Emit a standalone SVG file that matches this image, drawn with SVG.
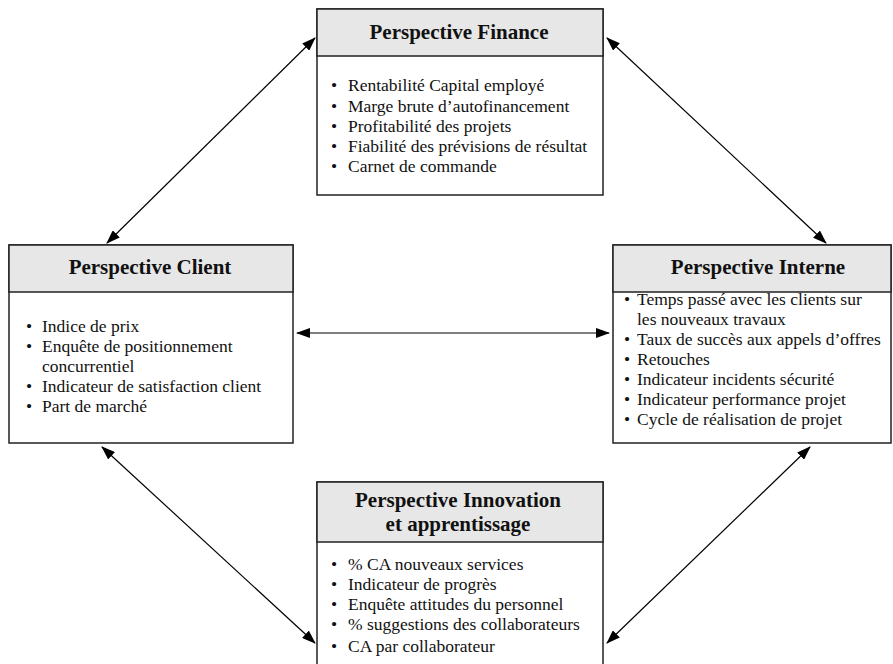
<svg xmlns="http://www.w3.org/2000/svg" width="893" height="664" viewBox="0 0 893 664">
<defs>
<marker id="ah" viewBox="0 0 14 10" refX="13" refY="5" markerWidth="14" markerHeight="10" markerUnits="userSpaceOnUse" orient="auto-start-reverse">
<path d="M0,0 L14,5 L0,10 Z" fill="#000"/>
</marker>
<style>
.box{fill:#fff;stroke:#222;stroke-width:1.5}
.hdr{fill:#e7e7e7;stroke:#222;stroke-width:1.5}
.ttl{font-family:"Liberation Serif",serif;font-weight:bold;font-size:21px;fill:#111;text-anchor:middle}
.txt{font-family:"Liberation Serif",serif;font-size:17.5px;fill:#111}
.con{stroke:#000;stroke-width:1.2;fill:none;marker-start:url(#ah);marker-end:url(#ah)}
</style>
</defs>
<rect width="893" height="664" fill="#fff"/>
<g id="connectors">
<line class="con" x1="315" y1="38" x2="107" y2="243"/>
<line class="con" x1="607" y1="38" x2="826" y2="243"/>
<line class="con" x1="297" y1="333" x2="609" y2="333"/>
<line class="con" x1="102" y1="447" x2="315" y2="643"/>
<line class="con" x1="810" y1="447" x2="607" y2="643"/>
</g>
<g id="finance">
<rect class="box" x="317" y="9" width="286" height="186"/>
<rect class="hdr" x="317" y="9" width="286" height="47"/>
<text class="ttl" x="459" y="39">Perspective Finance</text>
<g class="txt">
<text x="331" y="91">•</text><text x="348" y="91">Rentabilité Capital employé</text>
<text x="331" y="112">•</text><text x="348" y="112">Marge brute d’autofinancement</text>
<text x="331" y="132">•</text><text x="348" y="132">Profitabilité des projets</text>
<text x="331" y="152">•</text><text x="348" y="152">Fiabilité des prévisions de résultat</text>
<text x="331" y="172">•</text><text x="348" y="172">Carnet de commande</text>
</g>
</g>
<g id="client">
<rect class="box" x="9" y="245" width="284" height="198"/>
<rect class="hdr" x="9" y="245" width="284" height="47"/>
<text class="ttl" x="150" y="274">Perspective Client</text>
<g class="txt">
<text x="26" y="332">•</text><text x="42" y="332">Indice de prix</text>
<text x="26" y="352">•</text><text x="42" y="352">Enquête de positionnement</text>
<text x="42" y="372">concurrentiel</text>
<text x="26" y="392">•</text><text x="42" y="392">Indicateur de satisfaction client</text>
<text x="26" y="412">•</text><text x="42" y="412">Part de marché</text>
</g>
</g>
<g id="interne">
<rect class="box" x="613" y="245" width="278" height="198"/>
<rect class="hdr" x="613" y="245" width="278" height="47"/>
<text class="ttl" x="758" y="274">Perspective Interne</text>
<g class="txt">
<text x="624" y="305">•</text><text x="637" y="305">Temps passé avec les clients sur</text>
<text x="637" y="325">les nouveaux travaux</text>
<text x="624" y="345">•</text><text x="637" y="345">Taux de succès aux appels d’offres</text>
<text x="624" y="365">•</text><text x="637" y="365">Retouches</text>
<text x="624" y="385">•</text><text x="637" y="385">Indicateur incidents sécurité</text>
<text x="624" y="405">•</text><text x="637" y="405">Indicateur performance projet</text>
<text x="624" y="425">•</text><text x="637" y="425">Cycle de réalisation de projet</text>
</g>
</g>
<g id="innovation">
<rect class="box" x="317" y="482" width="286" height="190"/>
<rect class="hdr" x="317" y="482" width="286" height="60"/>
<text class="ttl" x="458" y="507">Perspective Innovation</text>
<text class="ttl" x="458" y="531">et apprentissage</text>
<g class="txt">
<text x="331" y="570">•</text><text x="348" y="570">% CA nouveaux services</text>
<text x="331" y="590">•</text><text x="348" y="590">Indicateur de progrès</text>
<text x="331" y="610">•</text><text x="348" y="610">Enquête attitudes du personnel</text>
<text x="331" y="630">•</text><text x="348" y="630">% suggestions des collaborateurs</text>
<text x="331" y="652">•</text><text x="348" y="652">CA par collaborateur</text>
</g>
</g>
</svg>
